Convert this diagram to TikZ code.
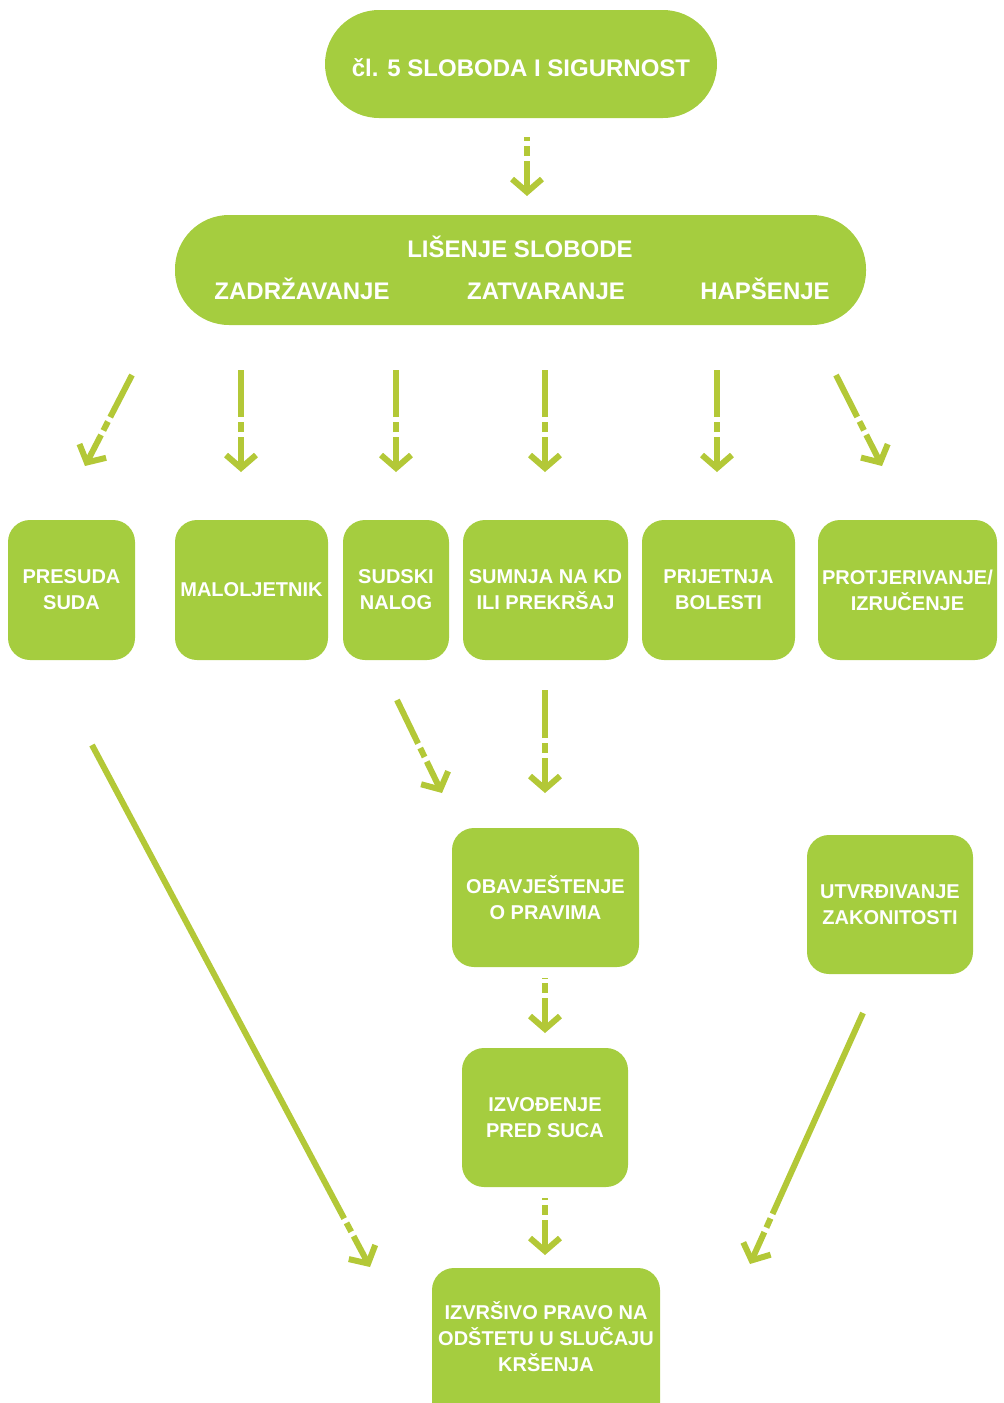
\documentclass[tikz,border=0pt]{standalone}
\usepackage{fontspec}
\setmainfont{Liberation Sans}
\usetikzlibrary{arrows.meta}
\definecolor{boxgreen}{HTML}{A5CD3F}
\definecolor{arrowgreen}{HTML}{B3C837}

\begin{document}
\begin{tikzpicture}[
            x = 1pt, y = -1pt,
            every node/.style={align=center, text=white, inner sep=0pt, font=\bfseries\fontsize{20}{26}\selectfont},
            box/.style={fill=boxgreen, rounded corners=22pt, minimum height=140pt},
            pill/.style={fill=boxgreen, rounded corners=54pt, minimum height=108pt},
            big/.style={anchor=base, font=\bfseries\fontsize{24}{28}\selectfont},
            arr/.style={draw=arrowgreen, line width=6pt, {Straight Barb[length=13pt,width=30pt]}-,
                dash pattern=on 28pt off 5pt on 10pt off 5pt on 4000pt},
            ]
        \useasboundingbox (0, 0) rectangle (1004, 1403);

        % top
        \node[pill, minimum width=392pt] (clan) at (521, 64) {};
        \node[big] (clant) at (521, 76) {čl. 5 SLOBODA I SIGURNOST};
        \node[pill, minimum width=691pt, minimum height=110pt] (lisenje) at (520.5, 270) {};
        \node[big] (lisenjet) at (520, 257) {LIŠENJE SLOBODE};
        \node[big] (zadrz) at (302, 299) {ZADRŽAVANJE};
        \node[big] (zatv) at (546, 299) {ZATVARANJE};
        \node[big] (haps) at (765, 299) {HAPŠENJE};

        % grounds
        \node[box, minimum width=127pt] (presuda) at (71.5, 590) {PRESUDA\\SUDA};
        \node[box, minimum width=153pt] (malolj) at (251.5, 590) {MALOLJETNIK};
        \node[box, minimum width=106pt] (nalog) at (396, 590) {SUDSKI\\NALOG};
        \node[box, minimum width=165pt] (sumnja) at (545.5, 590) {SUMNJA NA KD\\ILI PREKRŠAJ};
        \node[box, minimum width=153pt] (bolest) at (718.5, 590) {PRIJETNJA\\BOLESTI};
        \node[box, minimum width=179pt] (protj) at (907.5, 590) {PROTJERIVANJE/\\IZRUČENJE};

        % procedure
        \node[box, minimum width=187pt, minimum height=139pt] (obavj) at (545.5, 897.5) {OBAVJEŠTENJE\\O PRAVIMA};
        \node[box, minimum width=166pt, minimum height=139pt] (utvrd) at (890, 904.5) {UTVRĐIVANJE\\ZAKONITOSTI};
        \node[box, minimum width=166pt, minimum height=139pt] (izvod) at (545, 1117.5) {IZVOĐENJE\\PRED SUCA};
        \node[box, minimum width=228pt, minimum height=160pt] (odsteta) at (546, 1348) {};
        \node (odstetat) at (546, 1337) {IZVRŠIVO PRAVO NA\\ODŠTETU U SLUČAJU\\KRŠENJA};

        % arrow ends
        \coordinate (s1) at (527, 137);  \coordinate (e1) at (527, 196);
        \coordinate (s2) at (132, 375);  \coordinate (e2) at (85, 466);
        \coordinate (s3) at (241, 370);  \coordinate (e3) at (241, 472);
        \coordinate (s4) at (396, 370);  \coordinate (e4) at (396, 472);
        \coordinate (s5) at (545, 370);  \coordinate (e5) at (545, 472);
        \coordinate (s6) at (717, 370);  \coordinate (e6) at (717, 472);
        \coordinate (s7) at (836, 375);  \coordinate (e7) at (882, 466);
        \coordinate (s8) at (397, 700);  \coordinate (e8) at (442, 793);
        \coordinate (s9) at (545, 690);  \coordinate (e9) at (545, 793);
        \coordinate (s10) at (92, 745);  \coordinate (e10) at (370, 1267);
        \coordinate (s11) at (545, 978); \coordinate (e11) at (545, 1033);
        \coordinate (s12) at (545, 1198); \coordinate (e12) at (545, 1255);
        \coordinate (s13) at (863, 1013); \coordinate (e13) at (750, 1264);

        \foreach \i in {1,...,13}
            \draw[arr] (e\i) -- (s\i);
    \end{tikzpicture}
\end{document}
